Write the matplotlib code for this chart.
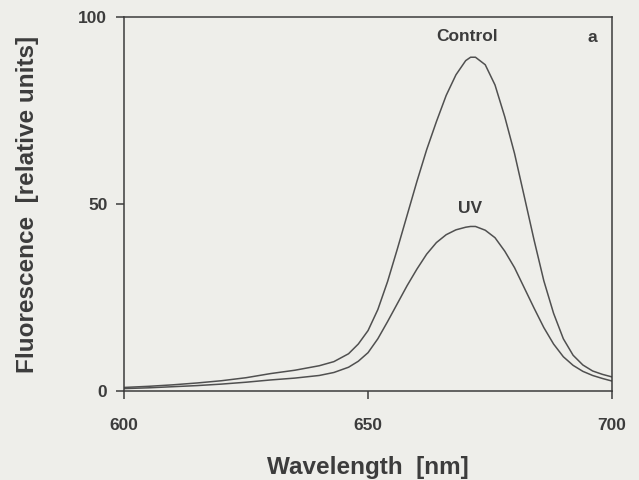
import matplotlib
matplotlib.use("Agg")
import matplotlib.pyplot as plt

plt.rcParams['font.family'] = ['Liberation Sans', 'DejaVu Sans']

# Wavelength grid (nm) and fluorescence
wavelength = [600, 605, 610, 615, 620, 625, 630, 635, 640, 643, 646, 648,
              650, 652, 654, 656, 658, 660, 662, 664, 666, 668, 670, 671,
              672, 674, 676, 678, 680, 682, 684, 686, 688, 690, 692, 694,
              696, 698, 700]
control = [1.0, 1.3, 1.7, 2.2, 2.8, 3.6, 4.7, 5.6, 6.8, 7.9, 10.0, 12.6,
           16.2, 21.8, 29.3, 38.0, 47.0, 56.0, 64.5, 72.0, 79.0, 84.5, 88.3, 89.2,
           89.2, 87.2, 81.8, 73.3, 63.5, 52.0, 40.4, 29.5, 20.8, 14.0, 9.6, 7.0,
           5.4, 4.5, 3.8]
uv = [0.7, 0.9, 1.2, 1.5, 1.9, 2.4, 3.0, 3.5, 4.2, 5.0, 6.4, 8.0,
      10.3, 14.0, 18.6, 23.4, 28.2, 32.6, 36.6, 39.7, 41.8, 43.1, 43.8, 44.0,
      44.0, 43.0, 41.0, 37.4, 33.0, 27.6, 22.2, 17.0, 12.6, 9.2, 6.9, 5.3,
      4.2, 3.4, 2.7]

x_ticks = [600, 650, 700]
y_ticks = [0, 50, 100]

bg = '#eeeeea'
ink = '#3c3c3c'
line_col = '#505050'

fig = plt.figure(figsize=(6.39, 4.80), dpi=100, facecolor=bg)
ax = fig.add_axes([0.194, 0.185, 0.764, 0.780])
ax.set_facecolor(bg)

ax.plot(wavelength, control, color=line_col, lw=1.1)
ax.plot(wavelength, uv, color=line_col, lw=1.1)

ax.set_xlim(600, 700)
ax.set_ylim(0, 100)
ax.set_xticks(x_ticks)
ax.set_yticks(y_ticks)
ax.tick_params(direction='out', length=6, width=1.1, color=ink,
               labelsize=12.5, labelcolor=ink)
ax.tick_params(axis='x', pad=13)
ax.tick_params(axis='y', pad=6)
for lab in ax.get_xticklabels() + ax.get_yticklabels():
    lab.set_fontweight('bold')
for sp in ax.spines.values():
    sp.set_color(ink)
    sp.set_linewidth(1.1)

ax.set_xlabel('Wavelength  [nm]', fontsize=17.5, fontweight='bold',
              color=ink, labelpad=17)
ax.set_ylabel('Fluorescence  [relative units]', fontsize=17.5,
              fontweight='bold', color=ink, labelpad=28)

ax.text(670.3, 94.7, 'Control', fontsize=12.5, fontweight='bold',
        color=ink, ha='center', va='center')
ax.text(670.9, 48.7, 'UV', fontsize=12.5, fontweight='bold',
        color=ink, ha='center', va='center')
ax.text(695.9, 94.4, 'a', fontsize=12.5, fontweight='bold',
        color=ink, ha='center', va='center')

fig.savefig('out.png', dpi=100, facecolor=bg)
